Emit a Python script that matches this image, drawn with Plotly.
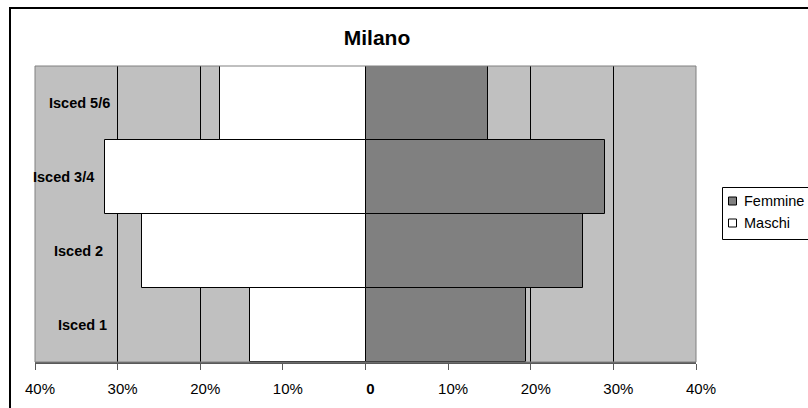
import plotly.graph_objects as go

# Education level shares in Milano, by sex (percent)
categories = ["Isced 1", "Isced 2", "Isced 3/4", "Isced 5/6"]
maschi = [14.0, 27.0, 31.5, 17.6]
femmine = [19.4, 26.3, 29.0, 14.8]

tick_values = [-40, -30, -20, -10, 0, 10, 20, 30, 40]
tick_labels = ["40%", "30%", "20%", "10%", "<b>0</b>", "10%", "20%", "30%", "40%"]

# right edge (in axis units) of each category label
label_right = [-31.1, -31.5, -32.6, -30.7]

FONT = "Liberation Sans, Arial, sans-serif"

# plot area in pixels
W, H = 808, 408
L, R, T, B = 35, 696, 66, 362


def px(xp):
    return (xp - L) / (R - L)


def py(yp):
    return (B - yp) / (B - T)


fig = go.Figure()

# Femmine on the right, Maschi mirrored to the left
fig.add_trace(go.Bar(
    y=categories, x=femmine, orientation="h", width=1,
    marker=dict(color="#808080", line=dict(color="black", width=1)),
    showlegend=False, name="Femmine",
))
fig.add_trace(go.Bar(
    y=categories, x=[-v for v in maschi], orientation="h", width=1,
    marker=dict(color="white", line=dict(color="black", width=1)),
    showlegend=False, name="Maschi",
))

annotations = [
    dict(x=xr, y=c, xref="x", yref="y", text=f"<b>{c}</b>", showarrow=False,
         xanchor="right", yanchor="middle", font=dict(family=FONT, size=14.5, color="black"))
    for c, xr in zip(categories, label_right)
]

shapes = [
    # plot area frame
    dict(type="rect", xref="paper", yref="paper", x0=0, x1=1, y0=0, y1=1,
         line=dict(color="#808080", width=1), fillcolor="rgba(0,0,0,0)", layer="above"),
    # outer chart border: left and top edges
    dict(type="line", xref="paper", yref="paper",
         x0=px(10), x1=px(10), y0=py(H + 5), y1=py(8),
         line=dict(color="black", width=2), layer="above"),
    dict(type="line", xref="paper", yref="paper",
         x0=px(9), x1=px(W + 5), y0=py(8), y1=py(8),
         line=dict(color="black", width=2), layer="above"),
    # legend box: left, top and bottom edges
    dict(type="rect", xref="paper", yref="paper",
         x0=px(722.5), x1=px(W + 5), y0=py(239.5), y1=py(187.5),
         line=dict(width=0), fillcolor="white", layer="above"),
    dict(type="path", xref="paper", yref="paper",
         path=f"M {px(W + 5)},{py(187.5)} L {px(722.5)},{py(187.5)} "
              f"L {px(722.5)},{py(239.5)} L {px(W + 5)},{py(239.5)}",
         line=dict(color="black", width=1), layer="above"),
]

# legend entries: swatch + label
legend_items = [("Femmine", "#808080", 201), ("Maschi", "white", 223)]
for name, color, yc in legend_items:
    shapes.append(dict(type="rect", xref="paper", yref="paper",
                       x0=px(728.5), x1=px(736.5), y0=py(yc + 4), y1=py(yc - 4),
                       line=dict(color="black", width=1), fillcolor=color, layer="above"))
    annotations.append(dict(x=px(742), y=py(yc), xref="paper", yref="paper", text=name,
                            showarrow=False, xanchor="left", yanchor="middle",
                            font=dict(family=FONT, size=14.5, color="black")))

fig.update_layout(
    width=W, height=H,
    margin=dict(l=L, r=W - R, t=T, b=H - B, autoexpand=False),
    paper_bgcolor="white",
    plot_bgcolor="#C0C0C0",
    barmode="overlay",
    bargap=0,
    showlegend=False,
    font=dict(family=FONT, size=14, color="black"),
    title=dict(text="<b>Milano</b>", x=377 / W, xanchor="center",
               y=1 - 38 / H, yanchor="middle", xref="container", yref="container",
               font=dict(family=FONT, size=21, color="black")),
    xaxis=dict(
        range=[-40, 40], tickvals=tick_values, ticktext=tick_labels,
        showgrid=True, gridcolor="black", gridwidth=1,
        zeroline=False, showline=True, linecolor="#595959", linewidth=1.5,
        ticks="outside", ticklen=6, tickcolor="#595959", tickwidth=1,
        ticklabelstandoff=6, ticklabelshift=5,
        tickfont=dict(family=FONT, size=15, color="black"),
        fixedrange=True,
    ),
    yaxis=dict(
        categoryorder="array", categoryarray=categories,
        range=[-0.5, 3.5], showticklabels=False, showgrid=False,
        zeroline=False, showline=False, ticks="", fixedrange=True,
    ),
    annotations=annotations,
    shapes=shapes,
)

fig.write_html("out.html")
